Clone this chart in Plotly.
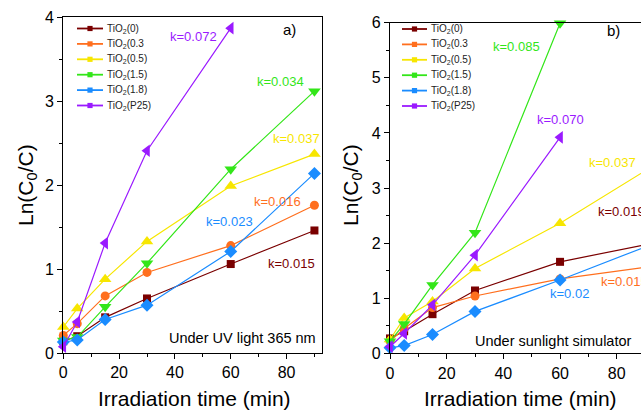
import plotly.graph_objects as go

# ---------------- data ----------------
time_min = [0, 5, 15, 30, 60, 90]
time_short = [0, 5, 15, 30, 60]

series_names = ["TiO<sub>2</sub>(0)", "TiO<sub>2</sub>(0.3", "TiO<sub>2</sub>(0.5)",
                "TiO<sub>2</sub>(1.5)", "TiO<sub>2</sub>(1.8)", "TiO<sub>2</sub>(P25)"]
colors = ["#7a0000", "#ff6f1e", "#f7e600", "#33e619", "#1a8cff", "#9a1aff"]
symbols = ["square", "circle", "triangle-up", "triangle-down", "diamond", "triangle-left"]
marker_sizes = [8, 9, 11, 11, 10, 11]

# Panel a: under UV light 365 nm
uv_tio2_0 = [0.14, 0.20, 0.425, 0.65, 1.06, 1.46]
uv_tio2_03 = [0.21, 0.35, 0.68, 0.96, 1.28, 1.76]
uv_tio2_05 = [0.31, 0.53, 0.88, 1.33, 1.99, 2.37]
uv_tio2_15 = [0.15, 0.19, 0.55, 1.07, 2.19, 3.12]
uv_tio2_18 = [0.13, 0.155, 0.40, 0.57, 1.21, 2.14]
uv_p25 = [0.075, 0.37, 1.31, 2.41, 3.87]

# Panel b: under sunlight simulator
sun_tio2_0 = [0.27, 0.40, 0.71, 1.14, 1.66, 1.97]
sun_tio2_03 = [0.22, 0.45, 0.83, 1.04, 1.35, 1.56]
sun_tio2_05 = [0.25, 0.64, 0.94, 1.54, 2.36, 3.31]
sun_tio2_15 = [0.22, 0.53, 1.24, 2.19, 5.99]
sun_tio2_18 = [0.10, 0.14, 0.34, 0.76, 1.33, 1.93]
sun_p25 = [0.12, 0.36, 0.88, 1.78, 3.92]

uv_x = [time_min, time_min, time_min, time_min, time_min, time_short]
uv_y = [uv_tio2_0, uv_tio2_03, uv_tio2_05, uv_tio2_15, uv_tio2_18, uv_p25]
sun_x = [time_min, time_min, time_min, time_short, time_min, time_short]
sun_y = [sun_tio2_0, sun_tio2_03, sun_tio2_05, sun_tio2_15, sun_tio2_18, sun_p25]

# rate-constant labels: (text, series index, x, y[, xanchor])
uv_k_labels = [("k=0.072", 5, 46.5, 3.77), ("k=0.034", 3, 77.7, 3.23),
               ("k=0.037", 2, 83.7, 2.56), ("k=0.016", 1, 76.6, 1.81),
               ("k=0.023", 4, 59.7, 1.57), ("k=0.015", 0, 81.9, 1.07)]
sun_k_labels = [("k=0.085", 3, 44.6, 5.56), ("k=0.070", 5, 60.0, 4.25),
                ("k=0.037", 2, 78.6, 3.46), ("k=0.019", 0, 72.6, 2.57, "left"),
                ("k=0.015", 1, 73.9, 1.30, "left"), ("k=0.02", 4, 63.5, 1.09)]

FONT = "Liberation Sans, Arial, sans-serif"
W, H = 641, 410

fig = go.Figure()

for i in range(6):
    fig.add_trace(go.Scatter(
        x=uv_x[i], y=uv_y[i], mode="lines+markers", name=series_names[i],
        line=dict(color=colors[i], width=1.2),
        marker=dict(symbol=symbols[i], size=marker_sizes[i], color=colors[i]),
        cliponaxis=False, showlegend=False, xaxis="x", yaxis="y"))
for i in range(6):
    fig.add_trace(go.Scatter(
        x=sun_x[i], y=sun_y[i], mode="lines+markers", name=series_names[i],
        line=dict(color=colors[i], width=1.2),
        marker=dict(symbol=symbols[i], size=marker_sizes[i], color=colors[i]),
        cliponaxis=False, showlegend=False, xaxis="x2", yaxis="y2"))

axis_common = dict(showgrid=False, zeroline=False, showline=True, linecolor="black",
                   linewidth=1.3, ticks="outside", ticklen=5, tickwidth=1.2,
                   tickcolor="black", automargin=False,
                   tickfont=dict(family=FONT, size=16, color="black"))

fig.update_layout(
    width=W, height=H, margin=dict(l=0, r=0, t=0, b=0, pad=0, autoexpand=False),
    paper_bgcolor="white", plot_bgcolor="white", showlegend=False,
    xaxis=dict(domain=[63.3 / W, 321.7 / W], range=[0, 92.6], dtick=20, mirror=True,
               minor=dict(dtick=10, ticks="outside", ticklen=3, tickcolor="black"),
               anchor="y", **axis_common),
    yaxis=dict(domain=[1 - 353 / H, 1 - 17.3 / H], range=[0, 4], dtick=1, mirror=True,
               minor=dict(dtick=0.5, ticks="outside", ticklen=3, tickcolor="black"),
               anchor="x", **axis_common),
    xaxis2=dict(domain=[390 / W, 1.0], range=[0, 88.57], dtick=20, mirror=True,
                minor=dict(dtick=10, ticks="outside", ticklen=3, tickcolor="black"),
                anchor="y2", **axis_common),
    yaxis2=dict(domain=[1 - 353.3 / H, 1 - 22.7 / H], range=[0, 6], dtick=1, mirror=False,
                minor=dict(dtick=0.5, ticks="outside", ticklen=3, tickcolor="black"),
                anchor="x2", **axis_common),
)

ann = []
for lab in uv_k_labels:
    ann.append(dict(text=lab[0], x=lab[2], y=lab[3], xref="x", yref="y", showarrow=False,
                    font=dict(family=FONT, size=13, color=colors[lab[1]])))
for lab in sun_k_labels:
    xa = lab[4] if len(lab) > 4 else "center"
    ann.append(dict(text=lab[0], x=lab[2], y=lab[3], xref="x2", yref="y2", showarrow=False,
                    xanchor=xa, font=dict(family=FONT, size=13, color=colors[lab[1]])))

ann += [
    dict(text="a)", x=80.9, y=3.86, xref="x", yref="y", showarrow=False,
         font=dict(family=FONT, size=15, color="black")),
    dict(text="b)", x=79.0, y=5.85, xref="x2", yref="y2", showarrow=False,
         font=dict(family=FONT, size=15, color="black")),
    dict(text="Under UV light 365 nm", x=91.2, y=0.18, xref="x", yref="y", xanchor="right",
         showarrow=False, font=dict(family=FONT, size=14.5, color="black")),
    dict(text="Under sunlight simulator", x=86.1, y=0.23, xref="x2", yref="y2", xanchor="right",
         showarrow=False, font=dict(family=FONT, size=14.5, color="black")),
    dict(text="Irradiation time (min)", x=194 / W, y=1 - 398 / H, xref="paper", yref="paper",
         xanchor="center", yanchor="middle",
         showarrow=False, font=dict(family=FONT, size=21, color="black")),
    dict(text="Irradiation time (min)", x=520 / W, y=1 - 398 / H, xref="paper", yref="paper",
         xanchor="center", yanchor="middle",
         showarrow=False, font=dict(family=FONT, size=21, color="black")),
    dict(text="Ln(C<sub>0</sub>/C)", x=27 / W, y=1 - 185 / H, xref="paper", yref="paper",
         xanchor="center", yanchor="middle",
         textangle=-90, showarrow=False, font=dict(family=FONT, size=21, color="black")),
    dict(text="Ln(C<sub>0</sub>/C)", x=352 / W, y=1 - 185 / H, xref="paper", yref="paper",
         xanchor="center", yanchor="middle",
         textangle=-90, showarrow=False, font=dict(family=FONT, size=21, color="black")),
]

# custom compact legends (one per panel)
shapes = []
for (lx0, lx1, tx, ly0) in [(77, 103, 105, 28.5), (402, 427, 429, 29)]:
    for i in range(6):
        py = ly0 + 15.4 * i
        yp = 1 - py / H
        shapes.append(dict(type="line", xref="paper", yref="paper", x0=lx0 / W, x1=lx1 / W,
                           y0=yp, y1=yp, line=dict(color=colors[i], width=1.8)))
        cx = (lx0 + lx1) / 2
        shapes.append(dict(type="rect", xref="paper", yref="paper",
                           x0=(cx - 2.6) / W, x1=(cx + 2.6) / W,
                           y0=1 - (py + 2.6) / H, y1=1 - (py - 2.6) / H,
                           line=dict(width=0), fillcolor=colors[i]))
        ann.append(dict(text=series_names[i], x=tx / W, y=yp, xref="paper", yref="paper",
                        xanchor="left", yanchor="middle", showarrow=False,
                        font=dict(family=FONT, size=10, color="#222222")))

fig.update_layout(annotations=ann, shapes=shapes)
fig.write_html("out.html", config={"displayModeBar": False},
               post_script="document.body.style.margin='0';document.body.style.overflow='hidden';")
